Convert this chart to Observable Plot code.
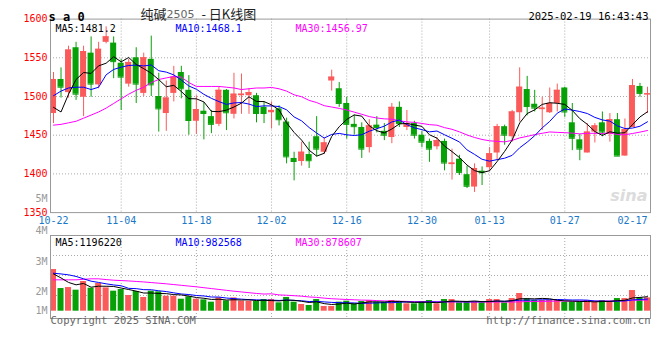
<!DOCTYPE html>
<html><head><meta charset="utf-8">
<script src="https://cdn.jsdelivr.net/npm/d3@7"></script>
<script src="https://cdn.jsdelivr.net/npm/@observablehq/plot@0.6"></script>
<style>
html,body{margin:0;padding:0;background:#fff;}
#chart{position:relative;width:660px;height:360px;overflow:hidden;background:#fff;}
#chart svg{position:absolute;left:0;top:0;}
</style></head><body><div id="chart"></div>
<script>
// ---- data ----
const dates = ["10-22","10-23","10-24","10-25","10-28","10-29","10-30","10-31",
"11-01","11-04","11-05","11-06","11-07","11-08","11-11","11-12","11-13","11-14","11-15",
"11-18","11-19","11-20","11-21","11-22","11-25","11-26","11-27","11-28","11-29",
"12-02","12-03","12-04","12-05","12-06","12-09","12-10","12-11","12-12","12-13",
"12-16","12-17","12-18","12-19","12-20","12-23","12-24","12-25","12-26","12-27","12-30","12-31",
"01-02","01-03","01-06","01-07","01-08","01-09","01-10","01-13","01-14","01-15","01-16","01-17",
"01-20","01-21","01-22","01-23","01-24","01-27",
"02-05","02-06","02-07","02-10","02-11","02-12","02-13","02-14","02-17","02-18","02-19"];
const open  = [1478,1522,1505,1563,1499,1556,1515,1570,1569,1543,1516,1550,1504,1548,1500,1478,1504,1531,1508,1468,
1481,1474,1464,1508,1477,1501,1501,1501,1486,1479,1484,1467,1420,1416,1425,1448,1428,1520,1510,1491,
1464,1460,1434,1463,1455,1447,1486,1460,1465,1450,1442,1435,1442,1412,1419,1399,1383,1403.5,1408,1427,
1461,1448,1479,1509,1490,1483,1479,1491,1511,1466,1444,1427,1454,1466,1451,1470,1423,1460,1513,1502];
const high  = [1531,1537,1565,1570,1565,1577,1570,1590,1577,1548,1548,1563,1556,1578,1530,1520,1539,1539,1527,1501,
1492,1482,1512,1509,1530,1529,1510,1504,1493,1493,1488,1472,1428,1441,1441,1474,1447,1534,1518,1499,
1476,1466,1470,1474,1465,1491,1493,1482,1468,1455,1445,1447,1445,1432,1424,1410,1413,1409,1434,1464,
1463,1482,1537,1526,1508,1499,1511,1516,1512,1491,1451,1465,1465,1480,1478,1478,1471,1522,1517,1512];
const low   = [1465,1498,1498,1495,1474,1499,1510,1568,1523,1482,1512,1491,1500,1500,1454,1455,1493,1497,1450,1451,
1444,1452,1461,1456,1471,1477,1477,1466,1465,1458,1462,1413,1391,1410,1407,1422,1425,1507,1486,1445,
1450,1420,1427,1453,1443,1439,1460,1456,1445,1434,1415,1431,1404,1392,1398,1381,1376,1385,1403,1418,
1437,1441,1467,1475,1480,1456,1478,1480,1473,1430,1417,1427,1440,1448,1441,1423,1423,1460,1499,1478];
const close = [1522,1512,1560,1503,1558,1516,1561,1577,1545,1525,1544,1516,1550,1515,1484,1498,1525,1510,1469,1483,
1478,1464,1508,1479,1503,1503,1505,1478,1478,1482,1470,1422,1416,1428,1417,1432,1440,1525,1491,1464,
1461,1432,1462,1460,1450,1486,1465,1465,1450,1441,1432,1443,1414,1414,1402,1384,1407,1401.5,1426,1461,
1450,1480,1512,1487,1485,1485,1491,1508,1480,1446,1432,1454,1462,1454,1470,1423,1457,1514,1504,1503.5];
// volume (lots)
const volume = [3335000,1813000,1892000,1681000,2376000,1839000,2218000,1866000,1602000,1734000,
1258000,1575000,1100000,1602000,1549000,1197000,1197000,959000,1153000,959000,
906000,722000,1065000,827000,1065000,801000,801000,774000,933000,933000,
669000,1100000,722000,537000,458000,933000,378000,378000,722000,801000,
590000,774000,854000,722000,722000,854000,774000,590000,590000,774000,
854000,590000,933000,933000,669000,774000,774000,669000,933000,933000,
669000,1012000,1417000,986000,854000,854000,854000,854000,722000,722000,
722000,854000,722000,854000,774000,1012000,1012000,1654000,1065000,1065000];
// moving-average values before enough bars are on screen
const ma5Lead  = [1486,1480,1503,1522];
const ma10Lead = [1501,1507,1511,1512,1512,1509,1512,1528,1535];
const ma30Lead = [1463,1464,1466,1468,1472,1476,1480,1485,1491,1497,1503,1508,1512,1518,1522,1524,1526,1525,1518,1513,
1513,1513,1513,1512,1511,1509,1510,1511,1511];
const vma5Lead  = [2980000,2660000,2300000,2110000];
const vma10Lead = [3040000,2980000,2910000,2780000,2590000,2400000,2300000,2190000,2100000];
const vma30Lead = [2510000,2510000,2510000,2510000,2550000,2590000,2590000,2530000,2480000,2450000,2420000,2380000,2340000,2290000,
2240000,2190000,2130000,2070000,2010000,1950000,1880000,1810000,1740000,1670000,1600000,1540000,1480000,1420000,1370000];
const dateTicks = ["10-22","11-04","11-18","12-02","12-16","12-30","01-13","01-27","02-17"];
const gridDates = ["11-04","11-18","12-02","12-16","12-30","01-13","01-27"];
const priceTicks = [1350,1400,1450,1500,1550,1600];
const priceGrid = [1400,1450,1500,1550];
const priceLabels = ["MA5:1481.2","MA10:1468.1","MA30:1456.97"];
const volLabels = ["MA5:1196220","MA10:982568","MA30:878607"];
const volAxis = [{label:"5M", v:8960000},{label:"4M", v:6460000},{label:"3M", v:3980000},{label:"2M", v:1580000},{label:"1M", v:0}];
const volGrid = [1256000,2856000,4456000];
const titleParts = ["纯碱", "2505", " - 日K线图"];
const symbol = "s a 0";
const stamp = "2025-02-19 16:43:43";
const copyright = "Copyright 2025 SINA.COM";
const url = "http://finance.sina.com.cn";

// ---- derived ----
const RED = "#fb5a5a", GREEN = "#07a007", BLUE_T = "#1a78c8";
const MONO = "DejaVu Sans Mono, monospace";
function ma(vals, n, lead) {
  return vals.map((v, i) => i < n - 1 ? lead[i] : d3.mean(vals.slice(i - n + 1, i + 1)));
}
const idx = d3.range(dates.length);
const bars = idx.map(i => ({i, o: open[i], h: high[i], l: low[i], c: close[i], v: volume[i], up: close[i] >= open[i]}));
const col = d => d.up ? RED : GREEN;
const ma5 = ma(close, 5, ma5Lead), ma10 = ma(close, 10, ma10Lead), ma30 = ma(close, 30, ma30Lead);
const vma5 = ma(volume, 5, vma5Lead), vma10 = ma(volume, 10, vma10Lead), vma30 = ma(volume, 30, vma30Lead);
const xPos = d => dates.indexOf(d);
const xDomain = [-0.4, 79.4];
const W = 660, H = 360;
const grid = {stroke: "#aaa", strokeDasharray: "1,2", strokeWidth: 1};

const price = Plot.plot({
  width: W, height: H,
  marginLeft: 50, marginRight: 10, marginTop: 18.6, marginBottom: H - 212.1,
  x: {type: "linear", domain: xDomain, axis: null},
  y: {domain: [1350, 1600], axis: null},
  style: {background: "transparent", fontFamily: MONO, overflow: "visible"},
  marks: [
    Plot.ruleY(priceGrid, grid),
    Plot.ruleX(gridDates, {x: xPos, ...grid}),
    Plot.ruleX(bars, {x: "i", y1: "l", y2: "h", stroke: col}),
    Plot.rect(bars, {x1: d => d.i - 0.4, x2: d => d.i + 0.4, y1: "o", y2: "c", fill: col}),
    Plot.ruleY(bars, {x1: d => d.i - 0.4, x2: d => d.i + 0.4, y: "c", stroke: col}),
    Plot.line(idx, {x: d => d, y: i => ma30[i], stroke: "#ff00ff", strokeWidth: 1}),
    Plot.line(idx, {x: d => d, y: i => ma10[i], stroke: "#0000ff", strokeWidth: 1}),
    Plot.line(idx, {x: d => d, y: i => ma5[i], stroke: "#000", strokeWidth: 1}),
    Plot.frame({stroke: "#999"}),
    Plot.axisY(priceTicks, {tickSize: 0, tickPadding: 3, tickFormat: d => String(d), fill: "#f00", fontSize: 10, fontFamily: MONO, label: null}),
    Plot.text(dateTicks, {x: xPos, frameAnchor: "bottom", dy: 11, fill: BLUE_T, fontSize: 10, fontFamily: MONO}),
    Plot.text([symbol], {frameAnchor: "top-left", dx: -2, dy: -7, textAnchor: "start", fontWeight: "bold", fontSize: 12, fill: "#000"}),
    Plot.text([titleParts[0]], {frameAnchor: "top-left", dx: 90, dy: -9, textAnchor: "start", fontFamily: "Noto Sans CJK SC", fontSize: 13, fill: "#222"}),
    Plot.text([titleParts[1]], {frameAnchor: "top-left", dx: 116, dy: -8.5, textAnchor: "start", fontFamily: "DejaVu Sans", fontSize: 11, fill: "#666"}),
    Plot.text([titleParts[2]], {frameAnchor: "top-left", dx: 148, dy: -9, textAnchor: "start", fontFamily: "Noto Sans CJK SC", fontSize: 13, fill: "#222"}),
    Plot.text([stamp], {frameAnchor: "top-right", dx: -2, dy: -7, textAnchor: "end", fontSize: 10.5, fill: "#000"}),
    Plot.text([priceLabels[0]], {frameAnchor: "top-left", dx: 5, dy: 5.5, textAnchor: "start", fontSize: 10, fill: "#000"}),
    Plot.text([priceLabels[1]], {frameAnchor: "top-left", dx: 125, dy: 5.5, textAnchor: "start", fontSize: 10, fill: "#0000ff"}),
    Plot.text([priceLabels[2]], {frameAnchor: "top-left", dx: 245, dy: 5.5, textAnchor: "start", fontSize: 10, fill: "#ff00ff"}),
    Plot.text(["sina"], {frameAnchor: "bottom-right", dx: -3, dy: -12, textAnchor: "end", fontSize: 16, fontWeight: "bold", fontStyle: "italic", fontFamily: "DejaVu Sans", fill: "#dcdcdc"})
  ]
});

const vol = Plot.plot({
  width: W, height: H,
  marginLeft: 50, marginRight: 10, marginTop: 235, marginBottom: H - 318,
  x: {type: "linear", domain: xDomain, axis: null},
  y: {domain: [-584000, 6056000], axis: null},
  style: {background: "transparent", fontFamily: MONO, overflow: "visible"},
  marks: [
    Plot.ruleY(volGrid, grid),
    Plot.ruleX(gridDates, {x: xPos, ...grid}),
    Plot.rect(bars, {x1: d => d.i - 0.4, x2: d => d.i + 0.4, y1: 0, y2: "v", fill: col}),
    Plot.line(idx, {x: d => d, y: i => vma30[i], stroke: "#ff00ff", strokeWidth: 1}),
    Plot.line(idx, {x: d => d, y: i => vma10[i], stroke: "#0000ff", strokeWidth: 1}),
    Plot.line(idx, {x: d => d, y: i => vma5[i], stroke: "#000", strokeWidth: 1}),
    Plot.frame({stroke: "#999"}),
    Plot.text(volAxis, {y: "v", text: "label", frameAnchor: "left", dx: -3, textAnchor: "end", fill: "#999", fontSize: 10}),
    Plot.text([volLabels[0]], {frameAnchor: "top-left", dx: 5, dy: 3.5, textAnchor: "start", fontSize: 10, fill: "#000"}),
    Plot.text([volLabels[1]], {frameAnchor: "top-left", dx: 125, dy: 3.5, textAnchor: "start", fontSize: 10, fill: "#0000ff"}),
    Plot.text([volLabels[2]], {frameAnchor: "top-left", dx: 245, dy: 3.5, textAnchor: "start", fontSize: 10, fill: "#ff00ff"}),
    Plot.text([copyright], {frameAnchor: "bottom-left", dy: 5.5, textAnchor: "start", fontSize: 10.5, fill: "#666"}),
    Plot.text([url], {frameAnchor: "bottom-right", dy: 5.5, textAnchor: "end", fontSize: 10.5, fill: "#666"})
  ]
});

const box = document.getElementById("chart");
box.appendChild(price);
box.appendChild(vol);
</script></body></html>
